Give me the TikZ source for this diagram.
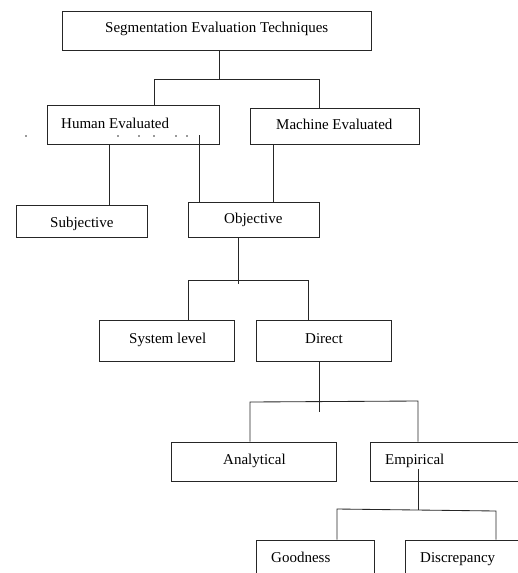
\documentclass[tikz,border=0pt]{standalone}
\usepackage{fontspec}
\setmainfont{Liberation Serif}
\begin{document}
\begin{tikzpicture}[x=1pt,y=-1pt,
  box/.style={draw=black!85, line width=0.85pt, rectangle, inner sep=0pt},
  lbl/.style={anchor=base west, inner sep=0pt, font=\fontsize{15}{18}\selectfont, text=black},
  conn/.style={draw=black!85, line width=0.85pt},
  speck/.style={fill=black!80, circle, inner sep=0pt, minimum size=1.6pt}]
\useasboundingbox (0,0) rectangle (518,573);
\clip (0,0) rectangle (518,573);
% boxes
\node[box, minimum width=309pt, minimum height=39pt] (top) at (216.5,30.5) {};
\node[box, minimum width=172pt, minimum height=39pt] (human) at (133,124.5) {};
\node[box, minimum width=169pt, minimum height=36pt] (machine) at (334.5,126) {};
\node[box, minimum width=131pt, minimum height=32pt] (subj) at (81.5,221) {};
\node[box, minimum width=131pt, minimum height=35pt] (obj) at (253.5,219.5) {};
\node[box, minimum width=135pt, minimum height=41pt] (sys) at (166.5,340.5) {};
\node[box, minimum width=135pt, minimum height=41pt] (direct) at (323.5,340.5) {};
\node[box, minimum width=165pt, minimum height=39pt] (anal) at (253.5,461.5) {};
\node[box, minimum width=160pt, minimum height=39pt] (emp) at (450,461.5) {};
\node[box, minimum width=118pt, minimum height=50pt] (good) at (315,565) {};
\node[box, minimum width=130pt, minimum height=50pt] (disc) at (470,565) {};
% labels
\node[lbl] (ttop) at (105,32.3) {Segmentation Evaluation Techniques};
\node[lbl] (thuman) at (61,128.3) {Human Evaluated};
\node[lbl] (tmachine) at (276,129) {Machine Evaluated};
\node[lbl] (tsubj) at (50,227.7) {Subjective};
\node[lbl] (tobj) at (224,223.3) {Objective};
\node[lbl] (tsys) at (129,343.3) {System level};
\node[lbl] (tdirect) at (305,343.3) {Direct};
\node[lbl] (tanal) at (223,464) {Analytical};
\node[lbl] (temp) at (385,464) {Empirical};
\node[lbl] (tgood) at (271,562.3) {Goodness};
\node[lbl] (tdisc) at (420,562.3) {Discrepancy};
% stray specks
\foreach \i/\px in {1/26,2/118,3/139,4/154,5/176,6/187}
  \node[speck] (s\i) at (\px,136) {};
% junction coordinates
\coordinate (j1) at (219,79);
\coordinate (j1l) at (154,79);
\coordinate (j1r) at (319,79);
\coordinate (h1) at (109,144);
\coordinate (h2) at (199,135);
\coordinate (m1) at (273,144);
\coordinate (j2) at (238,280);
\coordinate (j2e) at (238,284);
\coordinate (j2l) at (188,280);
\coordinate (j2r) at (308,280);
\coordinate (j3) at (319,402);
\coordinate (j3e) at (319,412);
\coordinate (j3l) at (250,402);
\coordinate (j3r) at (418,401);
\coordinate (e1) at (418,469);
\coordinate (j4) at (418,510);
\coordinate (j4l) at (337,509);
\coordinate (j4r) at (496,511);
% connectors
\draw[conn] (top.south -| j1) -- (j1);
\draw[conn] (human.north -| j1l) -- (j1l) -- (j1r) -- (machine.north -| j1r);
\draw[conn] (h1) -- (subj.north -| h1);
\draw[conn] (h2) -- (obj.north -| h2);
\draw[conn] (m1) -- (obj.north -| m1);
\draw[conn] (obj.south -| j2) -- (j2e);
\draw[conn] (sys.north -| j2l) -- (j2l) -- (j2r) -- (direct.north -| j2r);
\draw[conn] (direct.south -| j3) -- (j3e);
\draw[conn] (anal.north -| j3l) -- (j3l) -- (j3r) -- (emp.north -| j3r);
\draw[conn] (e1) -- (j4);
\draw[conn] (good.north -| j4l) -- (j4l) -- (j4r) -- (disc.north -| j4r);
\end{tikzpicture}
\end{document}
